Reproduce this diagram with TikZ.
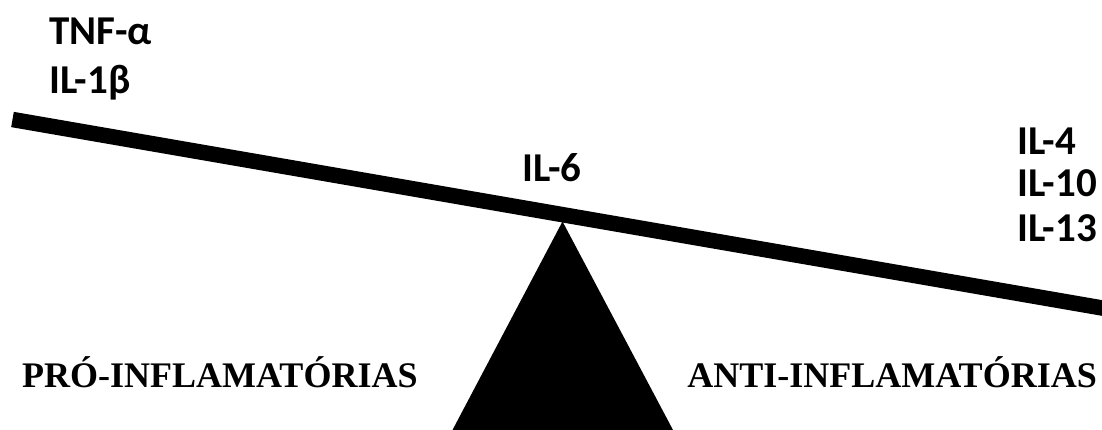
\documentclass[tikz,border=0pt]{standalone}
\usepackage{fontspec}
\setmainfont{Liberation Serif}
\newfontfamily\carlitofont{Carlito}
\begin{document}
\begin{tikzpicture}[x=1pt,y=-1pt,
  cyto/.style={inner sep=0pt,anchor=base west,font=\carlitofont\bfseries\fontsize{41}{41}\selectfont},
  side/.style={inner sep=0pt,anchor=base west,font=\bfseries\fontsize{36}{36}\selectfont}]
\useasboundingbox (0,0) rectangle (1102,430);
% beam
\coordinate (bl) at (12.5,119.5);
\coordinate (br) at (1112,309.7);
\draw[line width=15.5pt] (bl) -- (br);
% fulcrum
\coordinate (apex) at (562.5,221.5);
\fill (apex) -- (452.5,430) -- (673,430) -- cycle;
% labels
\node[cyto] (tnf) at (49,45) {TNF-α};
\node[cyto] (il1) at (49,94) {IL-1β};
\node[cyto,anchor=base] (il6) at (552,182) {IL-6};
\node[cyto] (il4) at (1017,155) {IL-4};
\node[cyto] (il10) at (1017,197) {IL-10};
\node[cyto] (il13) at (1017,242) {IL-13};
\node[side] (pro) at (22,387) {PRÓ-INFLAMATÓRIAS};
\node[side,anchor=base east] (anti) at (1097,387) {ANTI-INFLAMATÓRIAS};
\end{tikzpicture}
\end{document}
